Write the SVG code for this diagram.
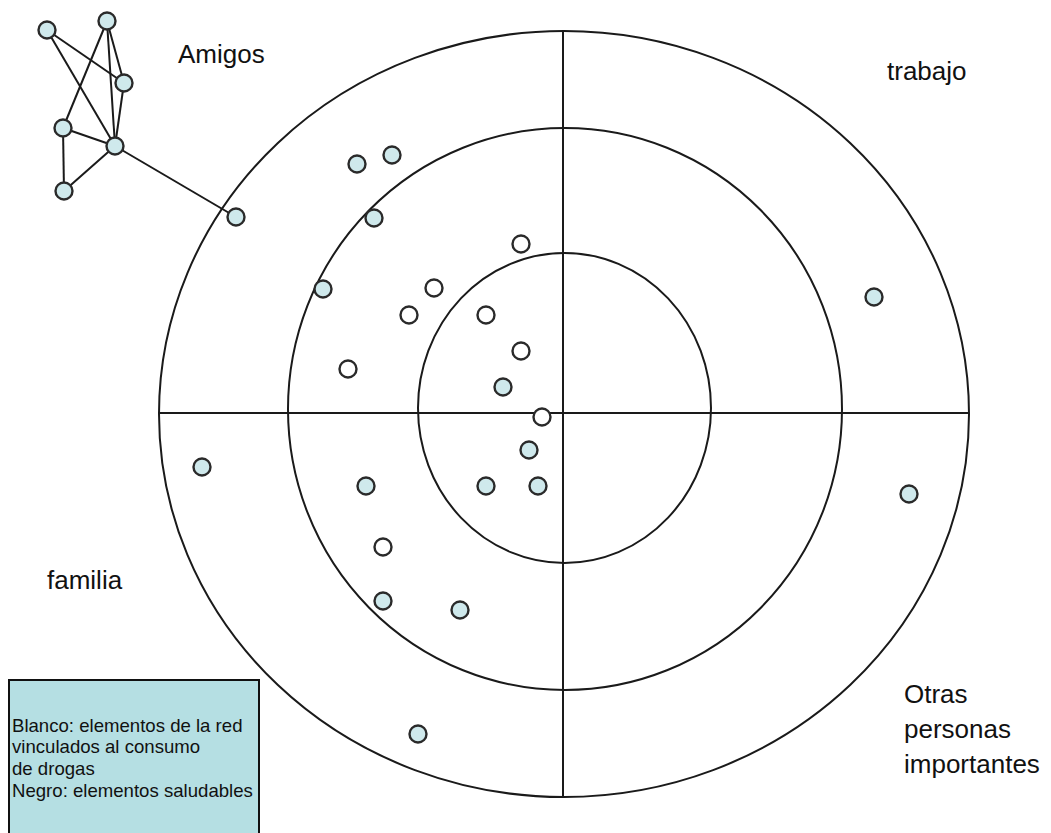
<svg xmlns="http://www.w3.org/2000/svg" width="1051" height="833" viewBox="0 0 1051 833">
<style>
.ring{fill:none;stroke:#1a1a1a;stroke-width:2}
.axis{stroke:#1a1a1a;stroke-width:2}
.edge{stroke:#1a1a1a;stroke-width:2;fill:none}
.c{fill:#cfe9ec;stroke:#2a2a2a;stroke-width:2.4}
.w{fill:#ffffff;stroke:#2a2a2a;stroke-width:2.4}
.lbl{font-family:"Liberation Sans",Arial,sans-serif;font-size:26px;fill:#111}
.leg{font-family:"Liberation Sans",Arial,sans-serif;font-size:18.6px;fill:#111}
</style>
<rect width="1051" height="833" fill="#ffffff"/>
<g id="rings">
<ellipse class="ring" cx="564" cy="414" rx="405" ry="383"/>
<ellipse class="ring" cx="565" cy="409" rx="277" ry="281"/>
<ellipse class="ring" cx="564.5" cy="408" rx="146.5" ry="155"/>
<line class="axis" x1="158" y1="413" x2="969" y2="413"/>
<line class="axis" x1="563" y1="31" x2="563" y2="797"/>
</g>
<g id="connectors">
<line class="edge" x1="47" y1="30" x2="124" y2="83"/>
<line class="edge" x1="47" y1="30" x2="115" y2="146"/>
<line class="edge" x1="107" y1="21" x2="63" y2="128"/>
<line class="edge" x1="107" y1="21" x2="115" y2="146"/>
<line class="edge" x1="107" y1="21" x2="124" y2="83"/>
<line class="edge" x1="124" y1="83" x2="115" y2="146"/>
<line class="edge" x1="63" y1="128" x2="115" y2="146"/>
<line class="edge" x1="63" y1="128" x2="64" y2="191"/>
<line class="edge" x1="64" y1="191" x2="115" y2="146"/>
<line class="edge" x1="115" y1="146" x2="236" y2="217"/>
</g>
<g id="friends-network">
<circle id="n-a" class="c" cx="47" cy="30" r="8.5"/>
<circle id="n-b" class="c" cx="107" cy="21" r="8.5"/>
<circle id="n-c" class="c" cx="124" cy="83" r="8.5"/>
<circle id="n-d" class="c" cx="63" cy="128" r="8.5"/>
<circle id="n-e" class="c" cx="115" cy="146" r="8.5"/>
<circle id="n-f" class="c" cx="64" cy="191" r="8.5"/>
<circle id="n-g" class="c" cx="236" cy="217" r="8.5"/>
</g>
<g id="nodes">
<circle class="c" cx="357" cy="164" r="8.5"/>
<circle class="c" cx="392" cy="155" r="8.5"/>
<circle class="c" cx="374" cy="218" r="8.5"/>
<circle class="w" cx="521" cy="244" r="8.5"/>
<circle class="c" cx="323" cy="289" r="8.5"/>
<circle class="w" cx="434" cy="288" r="8.5"/>
<circle class="w" cx="409" cy="315" r="8.5"/>
<circle class="w" cx="486" cy="315" r="8.5"/>
<circle class="w" cx="521" cy="351" r="8.5"/>
<circle class="w" cx="348" cy="369" r="8.5"/>
<circle class="c" cx="503" cy="387" r="8.5"/>
<circle class="w" cx="542" cy="417" r="8.5"/>
<circle class="c" cx="529" cy="450" r="8.5"/>
<circle class="c" cx="366" cy="486" r="8.5"/>
<circle class="c" cx="486" cy="486" r="8.5"/>
<circle class="c" cx="538" cy="486" r="8.5"/>
<circle class="w" cx="383" cy="547" r="8.5"/>
<circle class="c" cx="383" cy="601" r="8.5"/>
<circle class="c" cx="460" cy="610" r="8.5"/>
<circle class="c" cx="418" cy="734" r="8.5"/>
<circle class="c" cx="202" cy="467" r="8.5"/>
<circle class="c" cx="874" cy="297" r="8.5"/>
<circle class="c" cx="909" cy="494" r="8.5"/>
</g>
<g id="labels">
<text class="lbl" x="178" y="63">Amigos</text>
<text class="lbl" x="887" y="80">trabajo</text>
<text class="lbl" x="47" y="589">familia</text>
<text class="lbl" x="904" y="703">Otras</text>
<text class="lbl" x="904" y="738">personas</text>
<text class="lbl" x="904" y="773">importantes</text>
</g>
<g id="legend">
<rect x="9" y="680" width="250" height="160" fill="#b5dfe3" stroke="#111" stroke-width="2"/>
<text class="leg" x="12" y="732">Blanco: elementos de la red</text>
<text class="leg" x="12" y="753">vinculados al consumo</text>
<text class="leg" x="12" y="775">de drogas</text>
<text class="leg" x="12" y="797">Negro: elementos saludables</text>
</g>
</svg>
